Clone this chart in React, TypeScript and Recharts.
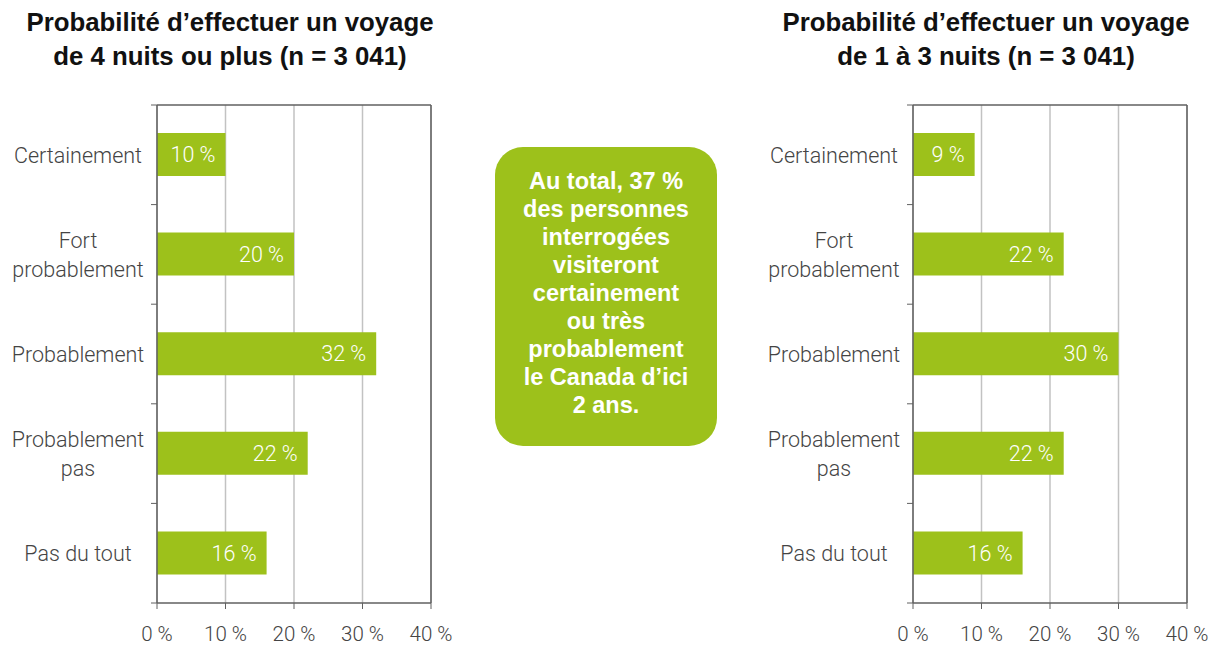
import React from 'react';
import { BarChart, Bar, XAxis, YAxis, CartesianGrid, ReferenceLine, LabelList } from 'recharts';

const categories = ['Certainement', 'Fort\nprobablement', 'Probablement', 'Probablement\npas', 'Pas du tout'];
const longTripValues = [10, 20, 32, 22, 16];
const shortTripValues = [9, 22, 30, 22, 16];
const xTicks = [0, 10, 20, 30, 40];
const leftTitle = ['Probabilité d’effectuer un voyage', 'de 4 nuits ou plus (n = 3 041)'];
const rightTitle = ['Probabilité d’effectuer un voyage', 'de 1 à 3 nuits (n = 3 041)'];
const calloutLines = [
  'Au total, 37 %',
  'des personnes',
  'interrogées',
  'visiteront',
  'certainement',
  'ou très',
  'probablement',
  'le Canada d’ici',
  '2 ans.',
];

const GREEN = '#9DC11B';
const AXIS = '#606060';
const GRID = '#c2c2c2';
const LABEL = '#444444';
const LIGHT_FONT = 'Roboto, "Liberation Sans", sans-serif';
const BOLD_FONT = '"Liberation Sans", Arial, sans-serif';

const CategoryTick = (props: any) => {
  const { x, y, payload, index, visibleTicksCount } = props;
  const half = typeof payload?.offset === 'number' && payload.offset > 0 ? payload.offset : 49.8;
  const lines = String(payload.value).split('\n');
  const lineH = 29;
  const startY = y - ((lines.length - 1) * lineH) / 2;
  const cx = x - 79;
  return (
    <g>
      <line x1={x - 6} x2={x} y1={y - half} y2={y - half} stroke={AXIS} strokeWidth={1} />
      {index === visibleTicksCount - 1 && (
        <line x1={x - 6} x2={x} y1={y + half} y2={y + half} stroke={AXIS} strokeWidth={1} />
      )}
      <text
        x={cx}
        y={startY}
        textAnchor="middle"
        fill={LABEL}
        fontSize={21.5}
        fontFamily={LIGHT_FONT}
        fontWeight={300}
      >
        {lines.map((l, i) => (
          <tspan key={i} x={cx} y={startY + i * lineH} dy="0.36em">
            {l}
          </tspan>
        ))}
      </text>
    </g>
  );
};

function Panel({ values, left, title }: { values: number[]; left: number; title: string[] }) {
  const data = categories.map((c, i) => ({ category: c, value: values[i] }));
  return (
    <div style={{ position: 'absolute', left, top: 0, width: 460, height: 645 }}>
      <div
        style={{
          position: 'absolute',
          left: 0,
          top: 5,
          width: 460,
          textAlign: 'center',
          fontFamily: BOLD_FONT,
          fontWeight: 700,
          fontSize: 25.8,
          lineHeight: '34px',
          color: '#111',
          whiteSpace: 'nowrap',
        }}
      >
        {title.map((t, i) => (
          <div key={i}>{t}</div>
        ))}
      </div>
      <BarChart
        width={460}
        height={645}
        data={data}
        layout="vertical"
        margin={{ top: 104, right: 29, bottom: 0, left: 0 }}
      >
        <CartesianGrid horizontal={false} stroke={GRID} strokeWidth={1.5} />
        <XAxis
          type="number"
          domain={[0, 40]}
          ticks={xTicks}
          interval={0}
          height={42}
          tickSize={6}
          tickMargin={17}
          axisLine={{ stroke: AXIS, strokeWidth: 1.5 }}
          tickLine={{ stroke: AXIS }}
          tickFormatter={(v: number) => `${v} %`}
          tick={{ fill: LABEL, fontSize: 20.5, fontFamily: LIGHT_FONT, fontWeight: 300 }}
        />
        <XAxis
          xAxisId="top"
          orientation="top"
          type="number"
          domain={[0, 40]}
          height={1}
          tick={false}
          tickLine={false}
          axisLine={{ stroke: AXIS, strokeWidth: 1.5 }}
        />
        <YAxis
          type="category"
          dataKey="category"
          width={157}
          tickSize={0}
          tickMargin={0}
          tickLine={false}
          interval={0}
          axisLine={{ stroke: AXIS, strokeWidth: 1.5 }}
          tick={<CategoryTick />}
        />
        <ReferenceLine x={40} stroke={AXIS} strokeWidth={1.5} />
        <Bar dataKey="value" fill={GREEN} barSize={43} isAnimationActive={false}>
          <LabelList
            dataKey="value"
            position="insideRight"
            offset={10}
            formatter={(v: any) => `${v} %`}
            fill="#ffffff"
            fontSize={21.5}
            fontFamily={LIGHT_FONT}
            fontWeight={300}
          />
        </Bar>
      </BarChart>
    </div>
  );
}

export default function App() {
  return (
    <div style={{ position: 'absolute', left: 0, top: 0, width: 1220, height: 645, background: '#fff' }}>
      <Panel values={longTripValues} left={0} title={leftTitle} />
      <Panel values={shortTripValues} left={756} title={rightTitle} />
      <div
        style={{
          position: 'absolute',
          left: 495,
          top: 147,
          width: 222,
          height: 299,
          borderRadius: 28,
          background: GREEN,
          color: '#fff',
          fontFamily: BOLD_FONT,
          fontWeight: 700,
          fontSize: 23.5,
          lineHeight: '28px',
          textAlign: 'center',
          boxSizing: 'border-box',
          paddingTop: 20,
          whiteSpace: 'nowrap',
        }}
      >
        {calloutLines.map((l, i) => (
          <div key={i}>{l}</div>
        ))}
      </div>
    </div>
  );
}
